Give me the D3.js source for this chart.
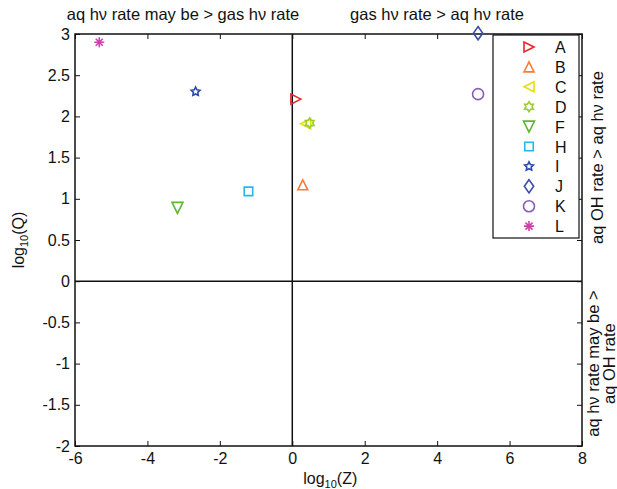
<!DOCTYPE html>
<html>
<head>
<meta charset="utf-8">
<script src="https://cdn.jsdelivr.net/npm/d3@7"></script>
<style>
  body { margin: 0; background: #fff; }
  text { font-family: "Liberation Sans", Arial, sans-serif; fill: #111; }
</style>
</head>
<body>
<div id="chart"></div>
<script>
// values
const labels = ['A', 'B', 'C', 'D', 'F', 'H', 'I', 'J', 'K', 'L'];
const zVals = [0.1, 0.29, 0.37, 0.48, -3.17, -1.21, -2.67, 5.13, 5.13, -5.33];
const qVals = [2.21, 1.17, 1.91, 1.92, 0.89, 1.09, 2.30, 3.01, 2.27, 2.90];
const shapes = ['triRight', 'triUp', 'triLeft', 'hexagram', 'triDown', 'square', 'pentagram', 'diamond', 'circle', 'asterisk'];
const colors = ['#e8262b', '#f47f38', '#e6e000', '#9ccc30', '#5cb82e', '#29b6e8', '#2a4aa8', '#3b4db0', '#8a5cb8', '#d13fa8'];

const xTicks = [-6, -4, -2, 0, 2, 4, 6, 8];
const yTicks = [-2, -1.5, -1, -0.5, 0, 0.5, 1, 1.5, 2, 2.5, 3];

const W = 617, H = 489;
const m = {left: 75, top: 34, right: 35, bottom: 43};
const w = W - m.left - m.right, h = H - m.top - m.bottom;

const x = d3.scaleLinear().domain([-6, 8]).range([0, w]);
const y = d3.scaleLinear().domain([-2, 3]).range([h, 0]);

const svg = d3.select('#chart').append('svg')
  .attr('width', W).attr('height', H);
const g = svg.append('g').attr('transform', `translate(${m.left},${m.top})`);

// marker shapes (MATLAB style), r = half size
function marker(shape, r) {
  const p = d3.path();
  if (shape === 'triRight') {
    p.moveTo(r, 0); p.lineTo(-r, -r); p.lineTo(-r, r); p.closePath();
  } else if (shape === 'triLeft') {
    p.moveTo(-r, 0); p.lineTo(r, -r); p.lineTo(r, r); p.closePath();
  } else if (shape === 'triUp') {
    p.moveTo(0, -r); p.lineTo(r, r); p.lineTo(-r, r); p.closePath();
  } else if (shape === 'triDown') {
    p.moveTo(0, r); p.lineTo(r, -r); p.lineTo(-r, -r); p.closePath();
  } else if (shape === 'square') {
    p.rect(-r * 0.85, -r * 0.85, r * 1.7, r * 1.7);
  } else if (shape === 'diamond') {
    p.moveTo(0, -r * 1.2); p.lineTo(r * 0.85, 0); p.lineTo(0, r * 1.2); p.lineTo(-r * 0.85, 0); p.closePath();
  } else if (shape === 'circle') {
    p.arc(0, 0, r, 0, 2 * Math.PI);
  } else if (shape === 'pentagram' || shape === 'hexagram') {
    const n = shape === 'pentagram' ? 5 : 6;
    const ri = shape === 'pentagram' ? r * 0.5 : r * 0.6;
    for (let i = 0; i < 2 * n; i++) {
      const a = -Math.PI / 2 + i * Math.PI / n;
      const rr = i % 2 ? ri : r;
      if (i === 0) p.moveTo(rr * Math.cos(a), rr * Math.sin(a));
      else p.lineTo(rr * Math.cos(a), rr * Math.sin(a));
    }
    p.closePath();
  } else if (shape === 'asterisk') {
    for (let i = 0; i < 4; i++) {
      const a = i * Math.PI / 4;
      p.moveTo(r * Math.cos(a), r * Math.sin(a));
      p.lineTo(-r * Math.cos(a), -r * Math.sin(a));
    }
  }
  return p.toString();
}
const sizes = {triRight: 5, triLeft: 5, triUp: 5, triDown: 5.5, square: 5, diamond: 5.5, circle: 5.5, pentagram: 4.6, hexagram: 5, asterisk: 5};

const fmt = d => String(d);

// axes with inward ticks
g.append('g').attr('transform', `translate(0,${h})`)
  .call(d3.axisBottom(x).tickValues(xTicks).tickFormat(fmt).tickSizeInner(-5).tickSizeOuter(0).tickPadding(7))
  .call(a => a.select('.domain').remove())
  .selectAll('text').style('font-size', '16px');
g.append('g')
  .call(d3.axisLeft(y).tickValues(yTicks).tickFormat(fmt).tickSizeInner(-5).tickSizeOuter(0).tickPadding(5))
  .call(a => a.select('.domain').remove())
  .selectAll('text').style('font-size', '16px');
g.append('g')
  .call(d3.axisTop(x).tickValues(xTicks).tickSizeInner(-5).tickSizeOuter(0).tickFormat(''))
  .call(a => a.select('.domain').remove());
g.append('g').attr('transform', `translate(${w},0)`)
  .call(d3.axisRight(y).tickValues(yTicks).tickSizeInner(-5).tickSizeOuter(0).tickFormat(''))
  .call(a => a.select('.domain').remove());
g.selectAll('.tick line').attr('stroke', '#111');

// frame and zero lines
g.append('rect').attr('width', w).attr('height', h)
  .attr('fill', 'none').attr('stroke', '#111').attr('stroke-width', 1.5);
g.append('line').attr('x1', x(0)).attr('x2', x(0)).attr('y1', 0).attr('y2', h)
  .attr('stroke', '#111').attr('stroke-width', 1.5);
g.append('line').attr('x1', 0).attr('x2', w).attr('y1', y(0)).attr('y2', y(0))
  .attr('stroke', '#111').attr('stroke-width', 1.5);

// points
const pts = labels.map((l, i) => ({l, z: zVals[i], q: qVals[i], s: shapes[i], c: colors[i]}));
g.selectAll('path.pt').data(pts).enter().append('path')
  .attr('class', 'pt')
  .attr('d', d => marker(d.s, sizes[d.s]))
  .attr('transform', d => `translate(${x(d.z)},${y(d.q)})`)
  .attr('fill', 'none')
  .attr('stroke', d => d.c)
  .attr('stroke-width', 1.6);

// legend
const leg = g.append('g').attr('transform', `translate(${w - 89},1)`);
leg.append('rect').attr('width', 86).attr('height', 203)
  .attr('fill', '#fff').attr('stroke', '#111').attr('stroke-width', 1.2);
const rows = leg.selectAll('g.row').data(pts).enter().append('g')
  .attr('class', 'row')
  .attr('transform', (d, i) => `translate(0,${12 + i * 19.9})`);
rows.append('path')
  .attr('d', d => marker(d.s, sizes[d.s]))
  .attr('transform', 'translate(36,0)')
  .attr('fill', 'none').attr('stroke', d => d.c).attr('stroke-width', 1.6);
rows.append('text').attr('x', 62).attr('y', 6).style('font-size', '16px').text(d => d.l);

// axis titles
const xl = svg.append('text').attr('x', m.left + x(0) + 38).attr('y', 484)
  .attr('text-anchor', 'middle').style('font-size', '16px');
xl.append('tspan').text('log');
xl.append('tspan').attr('dy', 4).style('font-size', '11px').text('10');
xl.append('tspan').attr('dy', -4).text('(Z)');

const yl = svg.append('text').attr('transform', `translate(24,${m.top + y(0.5)}) rotate(-90)`)
  .attr('text-anchor', 'middle').style('font-size', '16px');
yl.append('tspan').text('log');
yl.append('tspan').attr('dy', 4).style('font-size', '11px').text('10');
yl.append('tspan').attr('dy', -4).text('(Q)');

// region notes
svg.append('text').attr('x', 183).attr('y', 20).attr('text-anchor', 'middle')
  .style('font-size', '16.5px').text('aq h\u03bd rate may be > gas h\u03bd rate');
svg.append('text').attr('x', 437).attr('y', 20).attr('text-anchor', 'middle')
  .style('font-size', '16.5px').text('gas h\u03bd rate > aq h\u03bd rate');
svg.append('text').attr('transform', `translate(603,${m.top + y(1.5)}) rotate(-90)`)
  .attr('text-anchor', 'middle').style('font-size', '16.5px').text('aq OH rate > aq h\u03bd rate');
const r2 = svg.append('text').attr('transform', `translate(599,${m.top + y(-1)}) rotate(-90)`)
  .attr('text-anchor', 'middle').style('font-size', '16.5px');
r2.append('tspan').attr('x', 0).text('aq h\u03bd rate may be >');
r2.append('tspan').attr('x', 0).attr('dy', 16).text('aq OH rate');
</script>
</body>
</html>
